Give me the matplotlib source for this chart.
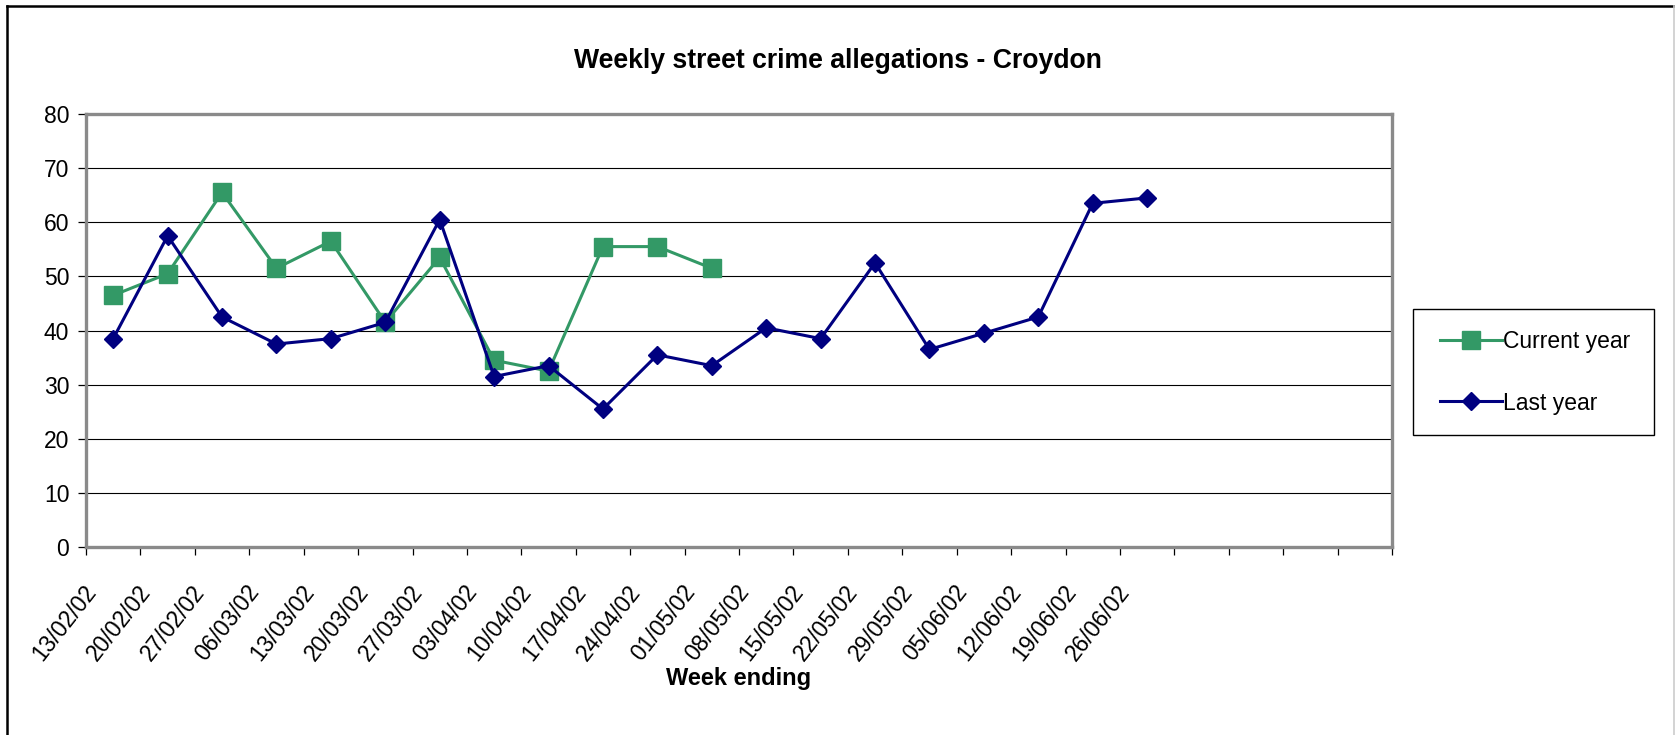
import matplotlib
matplotlib.use("Agg")
import matplotlib.pyplot as plt
import numpy as np
from matplotlib.lines import Line2D
from matplotlib.patches import Rectangle
from matplotlib.transforms import ScaledTranslation

plt.rcParams['font.family'] = ['Liberation Sans', 'DejaVu Sans']

# ---- data ----
week_labels = ["13/02/02", "20/02/02", "27/02/02", "06/03/02", "13/03/02",
               "20/03/02", "27/03/02", "03/04/02", "10/04/02", "17/04/02",
               "24/04/02", "01/05/02", "08/05/02", "15/05/02", "22/05/02",
               "29/05/02", "05/06/02", "12/06/02", "19/06/02", "26/06/02"]
n_slots = 24
current_year = [46.5, 50.5, 65.5, 51.5, 56.5, 41.5, 53.5, 34.5, 32.5, 55.5, 55.5, 51.5]
last_year = [38.5, 57.5, 42.5, 37.5, 38.5, 41.5, 60.5, 31.5, 33.5, 25.5,
             35.5, 33.5, 40.5, 38.5, 52.5, 36.5, 39.5, 42.5, 63.5, 64.5]
y_ticks = [0, 10, 20, 30, 40, 50, 60, 70, 80]

green = '#339966'
navy = '#000080'
FS = 16.5

W, H = 1675, 735
fig = plt.figure(figsize=(W / 100, H / 100), dpi=100)
ax = fig.add_axes([86 / W, 1 - 547 / H, (1392 - 86) / W, (547 - 114) / H])

x_cur = np.arange(len(current_year)) + 0.5
x_last = np.arange(len(last_year)) + 0.5

ax.plot(x_cur, current_year, color=green, lw=2.2, marker='s', ms=12.3,
        mfc=green, mec=green, mew=1, label='Current year', zorder=3)
ax.plot(x_last, last_year, color=navy, lw=2.2, marker='D', ms=9.4,
        mfc=navy, mec=navy, mew=1, label='Last year', zorder=4)

ax.set_xlim(0, n_slots)
ax.set_ylim(0, 80)
ax.set_yticks(y_ticks)
ax.set_yticklabels([str(v) for v in y_ticks], fontsize=FS)
ax.grid(axis='y', color='black', lw=0.8, zorder=0)
ax.set_axisbelow(True)

ticks = list(range(n_slots + 1))
labels = week_labels + [''] * (len(ticks) - len(week_labels))
ax.set_xticks(ticks)
ax.set_xticklabels(labels, fontsize=FS, rotation=52, ha='right', va='center',
                   rotation_mode='anchor')
ax.tick_params(axis='x', direction='out', length=5.5, width=0.9, color='black', pad=24)
ax.tick_params(axis='y', direction='out', length=6, width=0.9, color='black', pad=6)
off = ScaledTranslation(6 / 100, 0, fig.dpi_scale_trans)
for lab in ax.get_xticklabels():
    lab.set_transform(lab.get_transform() + off)

for s in ax.spines.values():
    s.set_color('#8a8a8a')
    s.set_linewidth(2.4)

ax.set_xlabel('Week ending', fontsize=17, fontweight='bold', va='center')
ax.xaxis.set_label_coords(0.5, -(678 - 547) / (547 - 114))

fig.text(0.5, 1 - 61 / H, 'Weekly street crime allegations - Croydon',
         ha='center', va='center', fontsize=19.2, fontweight='bold')

# legend frame (Excel style box) and legend contents
fig.add_artist(Rectangle((1413 / W, 1 - 435 / H), (1654 - 1413) / W, (435 - 309) / H,
                         transform=fig.transFigure, facecolor='white',
                         edgecolor='black', lw=1.0, zorder=1))
leg = fig.legend(loc='upper left', bbox_to_anchor=(1440 / W, 1 - 330 / H),
                 fontsize=FS, frameon=False,
                 handlelength=2.7, handletextpad=0.05, borderpad=0,
                 labelspacing=1.68, borderaxespad=0)
leg.set_zorder(2)

# outer chart frame
fig.add_artist(Line2D([7 / W, 7 / W], [0, 1 - 6 / H], transform=fig.transFigure,
                      color='black', lw=1.8))
fig.add_artist(Line2D([7 / W, 1], [1 - 6 / H, 1 - 6 / H], transform=fig.transFigure,
                      color='black', lw=1.8))
fig.add_artist(Line2D([1 - 1.5 / W, 1 - 1.5 / W], [0, 1 - 6 / H], transform=fig.transFigure,
                      color='#cccccc', lw=1.2))

fig.savefig('out.png', dpi=100)
